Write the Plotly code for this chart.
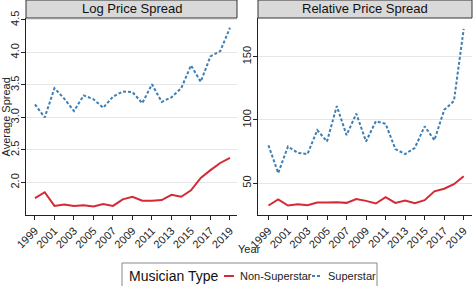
import plotly.graph_objects as go
from plotly.subplots import make_subplots

years = list(range(1999, 2020))

log_non = [1.76, 1.85, 1.64, 1.66, 1.64, 1.65, 1.63, 1.67, 1.64, 1.74, 1.78,
           1.72, 1.72, 1.73, 1.81, 1.78, 1.88, 2.07, 2.19, 2.30, 2.38]
log_star = [3.20, 3.00, 3.45, 3.29, 3.10, 3.34, 3.28, 3.15, 3.32, 3.40, 3.39,
            3.22, 3.51, 3.24, 3.31, 3.45, 3.80, 3.55, 3.94, 4.02, 4.38]

rel_non = [32.3, 37.2, 32.3, 33.3, 32.5, 34.6, 34.6, 34.9, 34.4, 37.5, 36.0,
           33.9, 39.0, 34.4, 36.2, 34.1, 36.5, 43.5, 45.6, 49.2, 55.5]
rel_star = [80, 58, 79, 74, 73, 92, 83, 111, 88, 105, 83,
            99, 97, 77, 73, 78, 95, 84, 108, 115, 172]

panel_titles = ["Log Price Spread", "Relative Price Spread"]
year_ticks = list(range(1999, 2020, 2))

RED = "#d42a36"
BLUE = "#3f7fb3"
DASH = "3px,2px"
FONT = "Liberation Sans, Arial, sans-serif"
W, H = 474, 286


def px_x(v):
    return v / W


def px_y(v):
    return 1 - v / H


fig = make_subplots(rows=1, cols=2)

fig.add_trace(go.Scatter(x=years, y=log_non, mode="lines", name="Non-Superstar",
                         line=dict(color=RED, width=2)), row=1, col=1)
fig.add_trace(go.Scatter(x=years, y=log_star, mode="lines", name="Superstar",
                         line=dict(color=BLUE, width=2, dash=DASH)), row=1, col=1)
fig.add_trace(go.Scatter(x=years, y=rel_non, mode="lines", name="Non-Superstar",
                         line=dict(color=RED, width=2)), row=1, col=2)
fig.add_trace(go.Scatter(x=years, y=rel_star, mode="lines", name="Superstar",
                         line=dict(color=BLUE, width=2, dash=DASH)), row=1, col=2)

# panel geometry in pixels
left = (26, 237)
right = (258, 472)
top_px, bot_px = 18, 215
ydom = [px_y(bot_px), px_y(top_px)]

axis_common = dict(showline=True, linecolor="#222", linewidth=1.2,
                   ticks="outside", ticklen=4, tickcolor="#222", automargin=False,
                   tickfont=dict(size=11, color="#222", family=FONT))

fig.update_xaxes(tickvals=year_ticks, tickangle=-45, showgrid=False,
                 zeroline=False, **axis_common)
fig.update_xaxes(domain=[px_x(left[0]), px_x(left[1])], range=[1998.08, 2019.72], row=1, col=1)
fig.update_xaxes(domain=[px_x(right[0]), px_x(right[1])], range=[1997.93, 2019.85], row=1, col=2)

fig.update_yaxes(domain=ydom, tickangle=-90, showgrid=True, gridcolor="#e6e6e6",
                 zeroline=False, ticklabelstandoff=-2, **axis_common)
fig.update_yaxes(range=[1.5, 4.53], tickvals=[2.0, 2.5, 3.0, 3.5, 4.0, 4.5],
                 tickformat=".1f", row=1, col=1)
fig.update_yaxes(range=[24.8, 180.7], tickvals=[50, 100, 150], row=1, col=2)

# strip headers
for (x0, x1), title in zip([left, right], panel_titles):
    fig.add_shape(type="rect", xref="paper", yref="paper",
                  x0=px_x(x0), x1=px_x(x1), y0=ydom[1], y1=1.0,
                  fillcolor="#d9d9d9", line=dict(color="#333", width=1))
    fig.add_annotation(x=px_x((x0 + x1) / 2), y=px_y(9), xref="paper", yref="paper",
                       xanchor="center", yanchor="middle",
                       text=title, showarrow=False,
                       font=dict(size=13, color="#111", family=FONT))

fig.add_annotation(x=px_x(5.5), y=px_y(117), xref="paper", yref="paper",
                   xanchor="center", yanchor="middle",
                   text="Average Spread", textangle=-90, showarrow=False,
                   font=dict(size=11, color="#222", family=FONT))
fig.add_annotation(x=px_x(249), y=px_y(249), xref="paper", yref="paper",
                   xanchor="center", yanchor="middle",
                   text="Year", showarrow=False,
                   font=dict(size=11, color="#222", family=FONT))

# legend box drawn by hand so the key lines stay short
leg_y = px_y(276)
fig.add_shape(type="rect", xref="paper", yref="paper",
              x0=px_x(122), x1=px_x(377), y0=px_y(292), y1=px_y(263),
              fillcolor="white", line=dict(color="#888", width=1))
fig.add_annotation(x=px_x(127), y=leg_y, xref="paper", yref="paper",
                   xanchor="left", yanchor="middle", text="Musician Type",
                   showarrow=False, font=dict(size=14, color="#111", family=FONT))
for x0, color, dash, label in [(224, RED, "solid", "Non-Superstar"),
                               (312, BLUE, DASH, "Superstar")]:
    fig.add_shape(type="line", xref="paper", yref="paper",
                  x0=px_x(x0), x1=px_x(x0 + 10), y0=leg_y, y1=leg_y,
                  line=dict(color=color, width=2, dash=dash))
    fig.add_annotation(x=px_x(x0 + 14), y=leg_y, xref="paper", yref="paper",
                       xanchor="left", yanchor="middle", text=label,
                       showarrow=False, font=dict(size=11, color="#222", family=FONT))

fig.update_layout(
    width=W, height=H,
    margin=dict(l=0, r=0, t=0, b=0),
    plot_bgcolor="white", paper_bgcolor="white",
    font=dict(family=FONT, color="#222"),
    showlegend=False,
)

fig.write_html("out.html", config={"displayModeBar": False},
               post_script="document.body.style.margin='0';")
